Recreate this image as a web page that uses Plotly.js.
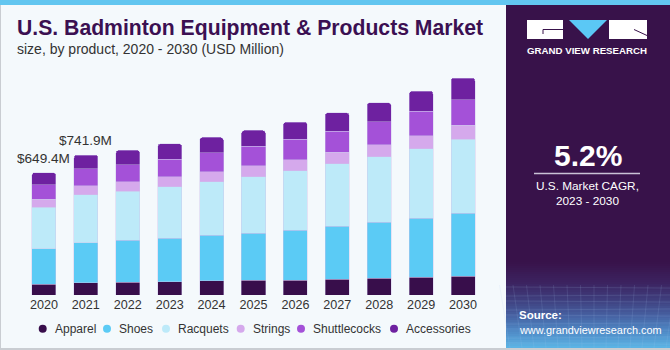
<!DOCTYPE html>
<html><head><meta charset="utf-8">
<script src="https://cdn.plot.ly/plotly-3.0.1.min.js"></script>
<style>html,body{margin:0;padding:0;background:#F4F9FC;} #chart{width:670px;height:350px;}</style>
</head><body><div id="chart"></div>
<script>
// ---- data ----
const years = ['2020','2021','2022','2023','2024','2025','2026','2027','2028','2029','2030'];
const apparel      = [58.2, 64.0, 68.8, 70.4, 75.6, 77.8, 79.4, 84.7, 89.9, 95.2, 100.5];
const shoes        = [186.8, 214.0, 222.2, 231.2, 240.2, 250.2, 264.6, 280.4, 294.7, 312.1, 333.3];
const racquets     = [220.6, 253.0, 259.2, 273.5, 283.5, 300.0, 313.8, 329.6, 349.1, 368.7, 391.5];
const strings      = [42.3, 48.0, 51.3, 50.8, 55.0, 58.2, 60.3, 61.9, 63.5, 68.8, 74.1];
const shuttlecocks = [77.8, 90.4, 89.9, 93.6, 100.5, 102.1, 107.4, 112.7, 121.7, 128.5, 136.0];
const accessories  = [63.7, 72.5, 75.6, 83.1, 80.9, 84.6, 91.5, 97.3, 100.5, 107.4, 114.3];
const seriesNames  = ['Apparel','Shoes','Racquets','Strings','Shuttlecocks','Accessories'];
const seriesColors = ['#380E4B','#5BCBF5','#BDEAF9','#D5A9EC','#A451D8','#6E21A0'];
const labelYears   = ['2020','2021'];
const labelTexts   = ['$649.4M','$741.9M'];
const titleText    = 'U.S. Badminton Equipment & Products Market';
const subtitleText = 'size, by product, 2020 - 2030 (USD Million)';
const cagrValue    = '5.2%';
const cagrCaption  = ['U.S. Market CAGR,','2023 - 2030'];
const brandText    = 'GRAND VIEW RESEARCH';
const sourceLines  = ['Source:','www.grandviewresearch.com'];

const seriesValues = [apparel, shoes, racquets, strings, shuttlecocks, accessories];

// ---- geometry helpers (pixel -> paper) ----
const W = 670, H = 350;
const M = {l:23, r:186, t:60, b:55};
const PW = W - M.l - M.r, PH = H - M.t - M.b;
const px = x => (x - M.l) / PW;
const py = y => (H - M.b - y) / PH;

const traces = seriesValues.map((vals, i) => ({
  type: 'bar', x: years, y: vals, name: seriesNames[i],
  marker: {color: seriesColors[i], line: {color: 'rgba(205,195,235,0.7)', width: 0.6}},
  showlegend: false, hoverinfo: 'skip'
}));

const totals = years.map((_, j) => seriesValues.reduce((s, a) => s + a[j], 0));

const shapes = [];
const annotations = [];

// borders / stripe
shapes.push({type:'rect', xref:'paper', yref:'paper', x0:px(0), x1:px(670), y0:py(5), y1:py(0), fillcolor:'#62C6F0', line:{width:0}});
shapes.push({type:'rect', xref:'paper', yref:'paper', x0:px(0), x1:px(1), y0:py(350), y1:py(5), fillcolor:'#C9CDD2', line:{width:0}});
shapes.push({type:'rect', xref:'paper', yref:'paper', x0:px(0), x1:px(670), y0:py(350), y1:py(348), fillcolor:'#C9CDD2', line:{width:0}});
// right panel
shapes.push({type:'rect', xref:'paper', yref:'paper', x0:px(506), x1:px(670), y0:py(348), y1:py(5), fillcolor:'#38124A', line:{width:0}});
// gradient at bottom of panel
function hex2rgb(h){return [parseInt(h.slice(1,3),16),parseInt(h.slice(3,5),16),parseInt(h.slice(5,7),16)];}
const stops = [[262,'#38124A'],[283,'#3C2360'],[300,'#3F3F7E'],[315,'#465FA0'],[330,'#4E86C3'],[348,'#5CB6E6']];
function colAt(y){
  for(let k=0;k<stops.length-1;k++){
    const [ya,ca]=stops[k],[yb,cb]=stops[k+1];
    if(y>=ya && y<=yb){const t=(y-ya)/(yb-ya);const a=hex2rgb(ca),b=hex2rgb(cb);
      return 'rgb('+a.map((v,i)=>Math.round(v+(b[i]-v)*t)).join(',')+')';}
  }
  return stops[stops.length-1][1];
}
for(let y=262;y<348;y+=2){
  shapes.push({type:'rect', xref:'paper', yref:'paper', x0:px(506), x1:px(670), y0:py(Math.min(y+2,348)), y1:py(y), fillcolor:colAt(y+1), line:{width:0}});
}
// faint mesh lines
for(let k=0;k<9;k++){
  const yy = 288 + k*7;
  shapes.push({type:'line', xref:'paper', yref:'paper', x0:px(506), x1:px(670), y0:py(yy+ (k%2?1:-1)), y1:py(yy), line:{color:'rgba(170,200,240,0.25)', width:0.6}});
}
for(let k=0;k<14;k++){
  const xx = 510 + k*12;
  shapes.push({type:'line', xref:'paper', yref:'paper', x0:px(xx), x1:px(xx+ (k-7)*1.5), y0:py(348), y1:py(285), line:{color:'rgba(170,200,240,0.22)', width:0.6}});
}
// logo
shapes.push({type:'rect', xref:'paper', yref:'paper', x0:px(527), x1:px(563), y0:py(39), y1:py(20), fillcolor:'#FFFFFF', line:{width:0}});
shapes.push({type:'path', xref:'paper', yref:'paper', path:'M '+px(569)+' '+py(20)+' L '+px(607)+' '+py(20)+' L '+px(588)+' '+py(39)+' Z', fillcolor:'#5BC8F5', line:{width:0}});
shapes.push({type:'rect', xref:'paper', yref:'paper', x0:px(609), x1:px(647), y0:py(39), y1:py(20), fillcolor:'#FFFFFF', line:{width:0}});
shapes.push({type:'path', xref:'paper', yref:'paper', path:'M '+px(563)+' '+py(29.5)+' L '+px(543)+' '+py(29.5)+' L '+px(543)+' '+py(34), line:{color:'#38124A', width:1}});
shapes.push({type:'path', xref:'paper', yref:'paper', path:'M '+px(634)+' '+py(29.5)+' L '+px(647)+' '+py(35.5), line:{color:'#38124A', width:1}});
// separator
shapes.push({type:'line', xref:'paper', yref:'paper', x0:px(534), x1:px(640), y0:py(173.5), y1:py(173.5), line:{color:'#C9C2D6', width:1.5}});

// panel texts
const white = '#FFFFFF';
const F = 'Liberation Sans, Arial, sans-serif';
annotations.push({xref:'paper', yref:'paper', x:px(587), y:py(50.5), text:'<b>'+brandText+'</b>', showarrow:false, xanchor:'center', yanchor:'middle', font:{family:F, size:9.7, color:white}});
annotations.push({xref:'paper', yref:'paper', x:px(587.5), y:py(155.5), text:'<b>'+cagrValue+'</b>', showarrow:false, xanchor:'center', yanchor:'middle', font:{family:F, size:30, color:white}});
annotations.push({xref:'paper', yref:'paper', x:px(587), y:py(185.5), text:cagrCaption[0], showarrow:false, xanchor:'center', yanchor:'middle', font:{family:F, size:11.8, color:white}});
annotations.push({xref:'paper', yref:'paper', x:px(587), y:py(201.5), text:cagrCaption[1], showarrow:false, xanchor:'center', yanchor:'middle', font:{family:F, size:11.8, color:white}});
annotations.push({xref:'paper', yref:'paper', x:px(517), y:py(315), text:'<b>'+sourceLines[0]+'</b>', showarrow:false, xanchor:'left', yanchor:'middle', font:{family:F, size:11.5, color:white}});
annotations.push({xref:'paper', yref:'paper', x:px(517), y:py(330), text:sourceLines[1], showarrow:false, xanchor:'left', yanchor:'middle', font:{family:F, size:10.9, color:white}});

// title + subtitle
annotations.push({xref:'paper', yref:'paper', x:px(15), y:py(28), text:'<b>'+titleText+'</b>', showarrow:false, xanchor:'left', yanchor:'middle', font:{family:F, size:21.2, color:'#3B1052'}});
annotations.push({xref:'paper', yref:'paper', x:px(15), y:py(48.5), text:subtitleText, showarrow:false, xanchor:'left', yanchor:'middle', font:{family:F, size:14, color:'#333333'}});

// value labels (category axis: positions are category indices)
labelYears.forEach((yr, k) => {
  const j = years.indexOf(yr);
  annotations.push({x: j, y: totals[j], xref:'x', yref:'y', text: labelTexts[k], showarrow:false, xanchor:'center', yanchor:'middle', yshift:14.5, font:{family:F, size:13.6, color:'#333333'}});
});

// legend (custom, circles)
const legMarkX = [42.7, 107, 166, 240.7, 301, 394];
const legY = 328.7;
seriesNames.forEach((n, i) => {
  shapes.push({type:'circle', xref:'paper', yref:'paper', x0:px(legMarkX[i]-4), x1:px(legMarkX[i]+4), y0:py(legY+4), y1:py(legY-4), fillcolor:seriesColors[i], line:{width:0}});
  annotations.push({xref:'paper', yref:'paper', x:px(legMarkX[i]+10), y:py(legY), text:n, showarrow:false, xanchor:'left', yanchor:'middle', font:{family:F, size:12, color:'#333333'}});
});

const layout = {
  width: W, height: H, margin: M,
  paper_bgcolor: '#F4F9FC', plot_bgcolor: '#F4F9FC',
  barmode: 'stack', bargap: 0.427, barcornerradius: 3,
  showlegend: false,
  xaxis: {type:'category', range:[-0.5, years.length - 0.5], autorange:false, showgrid:false, zeroline:false, showline:false, ticks:'',
          tickfont:{family:F, size:12.6, color:'#333333'}, fixedrange:true},
  yaxis: {range:[0, 1246], autorange:false, showgrid:false, zeroline:false, showline:false, showticklabels:false, ticks:'', fixedrange:true},
  shapes: shapes, annotations: annotations
};

Plotly.newPlot('chart', traces, layout, {displayModeBar:false, staticPlot:true});
</script>
</body></html>
